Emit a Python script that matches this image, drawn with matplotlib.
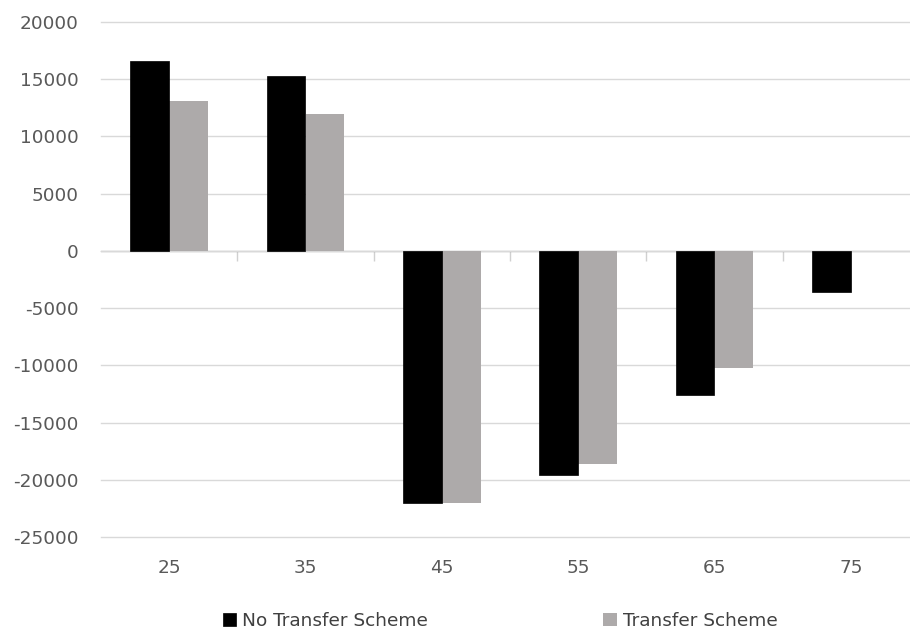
import numpy as np
import matplotlib.pyplot as plt

ages = ["25", "35", "45", "55", "65", "75"]
no_transfer = [16600, 15300, -22000, -19600, -12600, -3600]
transfer = [13100, 12000, -22000, -18600, -10200, 0]

plt.rcParams['font.family'] = ['DejaVu Sans']
plt.rcParams['axes.unicode_minus'] = False

fig = plt.figure(figsize=(9.1, 6.32), dpi=100)
ax = fig.add_axes([101/910, 1 - 537/632, 818/910, 515/632])

x = np.arange(len(ages))
w = 0.286
ax.bar(x + w/2, transfer, w, color='#adaaaa', linewidth=0,
       label='Transfer Scheme', zorder=3)
ax.bar(x - w/2, no_transfer, w, color='black', edgecolor='black',
       linewidth=0.5, label='No Transfer Scheme', zorder=4)

ymin, ymax = -25000, 20000
ax.set_xlim(-0.5, len(ages) - 0.5)
ax.set_ylim(ymin, ymax)
ax.set_yticks(np.arange(ymin, ymax + 1, 5000))
ax.yaxis.grid(True, color='#d9d9d9', linewidth=1)
ax.set_axisbelow(True)
for g in ax.get_ygridlines():
    g.set_clip_on(False)

for s in ax.spines.values():
    s.set_visible(False)

ax.set_xticks(x)
ax.set_xticklabels(ages)
ax.tick_params(axis='both', length=0, labelsize=13.3, colors='#595959')
ax.tick_params(axis='y', pad=16)
ax.tick_params(axis='x', pad=16)

# category axis line through zero with ticks between groups
zero = ax.secondary_xaxis((0 - ymin) / (ymax - ymin))
zero.set_xticks(np.arange(0.5, len(ages) - 1, 1.0))
zero.set_xticklabels([])
zero.tick_params(direction='in', length=7, color='#d0d0d0', width=1)
zero.spines['bottom'].set_color('#d0d0d0')
zero.spines['bottom'].set_linewidth(1)

handles, labels = ax.get_legend_handles_labels()
fig.legend(handles[::-1], labels[::-1], loc='center',
           bbox_to_anchor=(500/910, 1 - 621/632), ncol=2,
           frameon=False, fontsize=13.3, handlelength=0.75, handleheight=0.75,
           handletextpad=0.3, columnspacing=9.5, labelcolor='#404040')

fig.savefig('out.png', dpi=100)
